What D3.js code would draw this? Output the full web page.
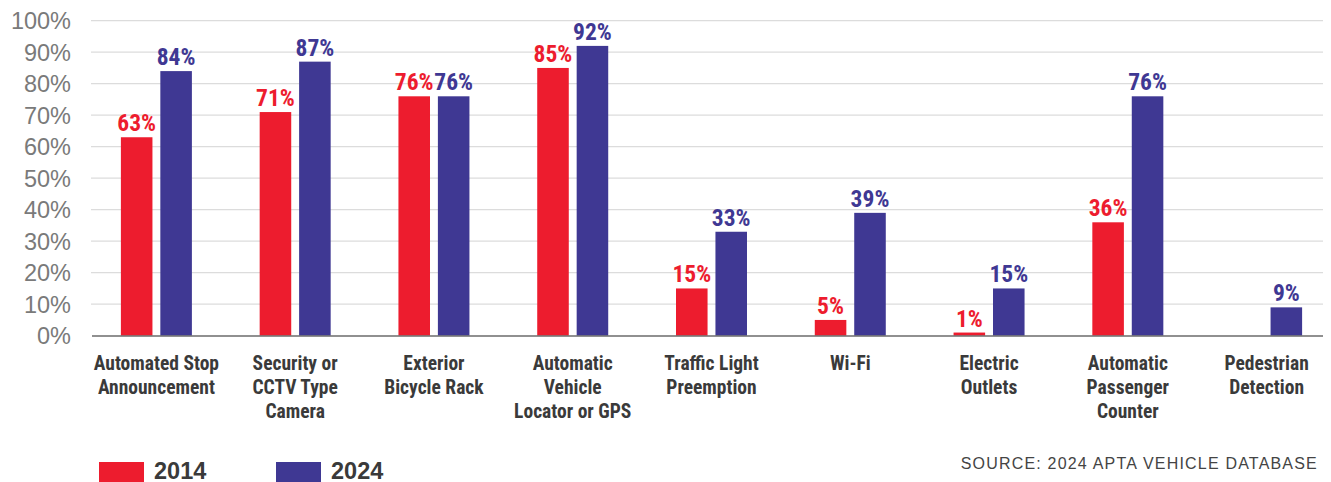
<!DOCTYPE html>
<html><head><meta charset="utf-8">
<script src="https://cdn.jsdelivr.net/npm/d3@7"></script>
<style>
body{margin:0;background:#fff;}
svg{display:block;}
.cond{font-family:"Liberation Sans Narrow","Roboto Condensed","DejaVu Sans Condensed",sans-serif;font-stretch:condensed;}
</style></head>
<body><svg id="c" width="1331" height="482"></svg>
<script>
const categories = [
  ["Automated Stop","Announcement"],
  ["Security or","CCTV Type","Camera"],
  ["Exterior","Bicycle Rack"],
  ["Automatic","Vehicle","Locator or GPS"],
  ["Traffic Light","Preemption"],
  ["Wi-Fi"],
  ["Electric","Outlets"],
  ["Automatic","Passenger","Counter"],
  ["Pedestrian","Detection"]
];
const series = ["2014","2024"];
const values2014 = [63,71,76,85,15,5,1,36,null];
const values2024 = [84,87,76,92,33,39,15,76,9];
const yTicks = [0,10,20,30,40,50,60,70,80,90,100];
const colors = ["#ED1C2E","#3F3893"];
const source = "SOURCE: 2024 APTA VEHICLE DATABASE";

const svg = d3.select("#c");
const y = d3.scaleLinear().domain([0,100]).range([335.7,20.7]);
const x0 = d3.scaleBand().domain(d3.range(categories.length)).range([87,1336]).paddingInner(0).paddingOuter(0);
const x1 = d3.scaleBand().domain(series).range([x0.bandwidth()/2-35.5, x0.bandwidth()/2+35.5]).paddingInner(0.2);

// grid
svg.append("g").selectAll("line").data(yTicks.filter(d=>d>0)).join("line")
  .attr("x1",91).attr("x2",1323).attr("y1",d=>y(d)).attr("y2",d=>y(d))
  .attr("stroke","#dcdcdc").attr("stroke-width",1.2);

// y labels
svg.append("g").selectAll("text").data(yTicks).join("text")
  .attr("x",71).attr("y",d=>y(d)+8.5).attr("text-anchor","end")
  .attr("font-family","Liberation Sans, Arial, sans-serif").attr("font-size",23.5)
  .attr("fill","#7a7a7a").text(d=>d+"%");

const data = [values2014, values2024];
const groups = svg.append("g").selectAll("g").data(categories).join("g")
  .attr("transform",(d,i)=>`translate(${x0(i)},0)`);

series.forEach((s,si)=>{
  groups.each(function(d,i){
    const v = data[si][i];
    if(v==null) return;
    const g = d3.select(this);
    g.append("rect").attr("x",x1(s)).attr("width",x1.bandwidth())
      .attr("y",y(v)).attr("height",y(0)-y(v)).attr("fill",colors[si]);
    g.append("text").attr("class","cond").attr("x",x1(s)+x1.bandwidth()/2).attr("y",y(v)-6)
      .attr("text-anchor","middle").attr("font-size",23.5).attr("font-weight","bold")
      .attr("fill",colors[si]).text(v+"%");
  });
});

// baseline
svg.append("line").attr("x1",92).attr("x2",1323).attr("y1",336).attr("y2",336)
  .attr("stroke","#6b6b6b").attr("stroke-width",1.5);

// category labels
groups.each(function(d){
  const t = d3.select(this).append("text").attr("class","cond")
    .attr("text-anchor","middle").attr("font-size",19.5).attr("font-weight","bold").attr("fill","#3a3a3a");
  d.forEach((line,li)=>{
    t.append("tspan").attr("x",x0.bandwidth()/2).attr("y",370+li*24).text(line);
  });
});

// legend
const legX = [99,276];
series.forEach((s,i)=>{
  svg.append("rect").attr("x",legX[i]).attr("y",462).attr("width",45).attr("height",20).attr("fill",colors[i]);
  svg.append("text").attr("x",legX[i]+55).attr("y",478.5).attr("font-family","Liberation Sans, Arial, sans-serif")
    .attr("font-weight","bold").attr("font-size",23.5).attr("fill","#3a3a3a").text(s);
});

svg.append("text").attr("x",1318).attr("y",469).attr("text-anchor","end")
  .attr("font-family","Liberation Sans, Arial, sans-serif").attr("font-size",16)
  .attr("letter-spacing",1.2).attr("fill","#444").text(source);
</script></body></html>
